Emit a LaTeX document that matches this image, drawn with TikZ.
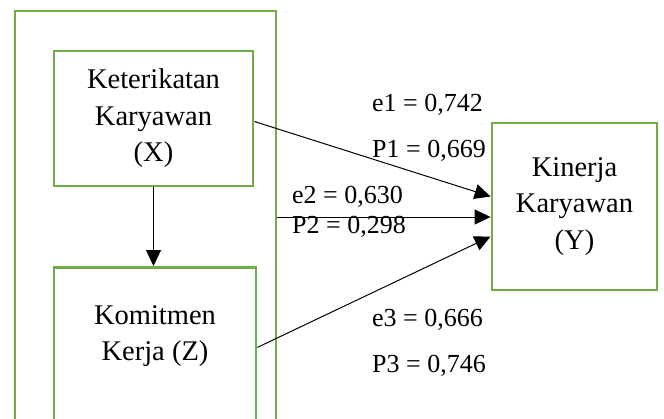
\documentclass[tikz,border=0pt]{standalone}
\usepackage{fontspec}
\setmainfont{Liberation Serif}
\usetikzlibrary{arrows.meta}
\definecolor{boxgreen}{HTML}{70AD47}
\begin{document}
\begin{tikzpicture}[x=1pt, y=-1pt,
    box/.style={draw=boxgreen, line width=2.8pt, align=center, inner sep=0pt, font=\fontsize{28.5}{36.5}\selectfont},
    coef/.style={anchor=base west, inner sep=0pt, font=\fontsize{26}{36}\selectfont},
    arr/.style={-{Triangle[length=16pt,width=15pt]}, line width=1pt}]
    \clip (0,0) rectangle (664,418);
    % boxes
    \node[box, minimum width=261, minimum height=429] (outer) at (145.5,225.5) {};
    \node[box, minimum width=199, minimum height=135] (X) at (153.5,118.5) {Keterikatan\\Karyawan\\(X)};
    \node[box, minimum width=202, minimum height=174, anchor=north] (Z) at (155,266) {};
    \node[align=center, inner sep=0pt, font=\fontsize{28.5}{36.5}\selectfont] (Ztext) at (155,336) {Komitmen\\Kerja (Z)};
    \node[box, minimum width=165, minimum height=167] (Y) at (574.5,206.5) {Kinerja\\Karyawan\\(Y)};
    % paths
    \draw[arr] (X.south) -- (X.south |- Z.north);
    \draw[arr] ([yshift=-3pt]X.east) -- ([yshift=10pt]Y.west);
    \draw[arr] (outer.east |- 0,217) -- (Y.west |- 0,217);
    \draw[arr] ([yshift=7pt]Z.east) -- ([yshift=-30pt]Y.west);
    % coefficients
    \node[coef] (e1) at (372,111) {e1 = 0,742};
    \node[coef] (p1) at (372,157) {P1 = 0,669};
    \node[coef] (e2) at (292,203) {e2 = 0,630};
    \node[coef] (p2) at (292,233) {P2 = 0,298};
    \node[coef] (e3) at (372,326) {e3 = 0,666};
    \node[coef] (p3) at (372,372) {P3 = 0,746};
\end{tikzpicture}
\end{document}
